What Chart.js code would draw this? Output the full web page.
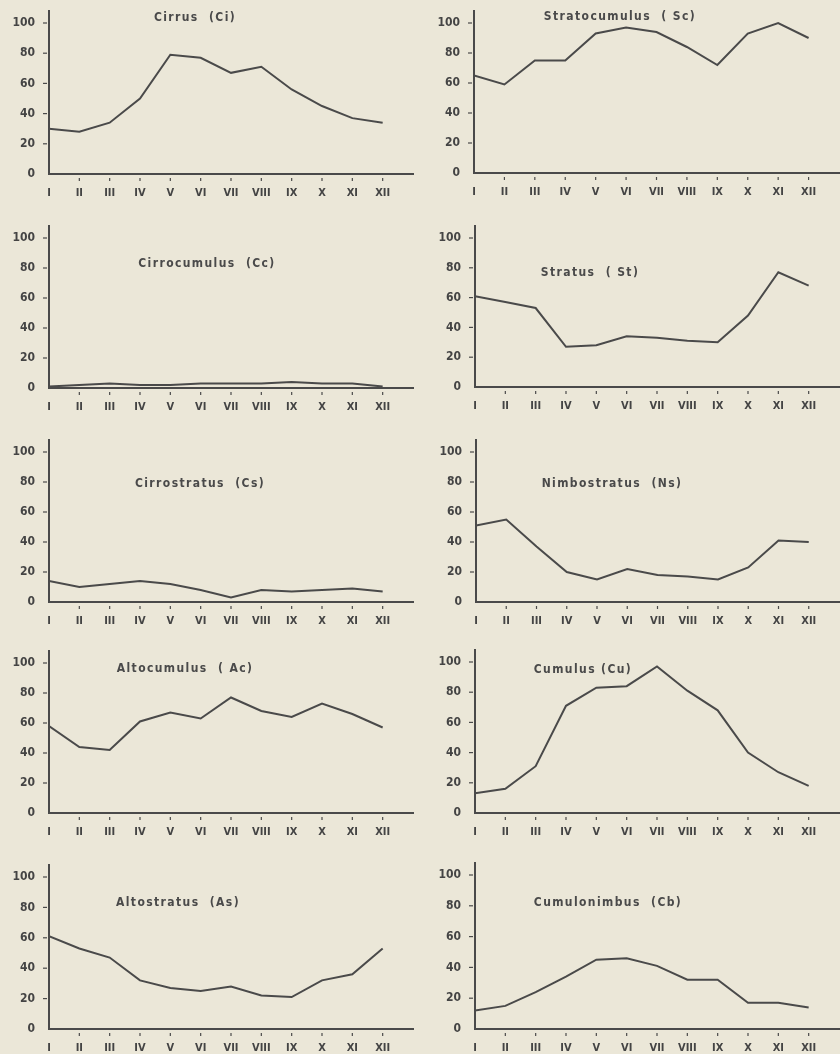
<!DOCTYPE html>
<html>
<head>
<meta charset="utf-8">
<script src="https://cdn.jsdelivr.net/npm/chart.js@4/dist/chart.umd.min.js"></script>
<style>
    body { margin: 0; background: #ebe7d8; }
    #page { position: relative; width: 840px; height: 1054px; overflow: hidden; background: #ebe7d8; }
    .panel { position: absolute; }
    .title {
        position: absolute;
        font-family: "DejaVu Sans Condensed", "Liberation Sans Narrow", "DejaVu Sans", sans-serif;
        font-size: 12px;
        font-weight: bold;
        color: #4a4a4a;
        letter-spacing: 1.4px;
        transform: translate(-50%, -50%);
        white-space: pre;
    }
</style>
</head>
<body>
<div id="page"></div>
<script>
// Monthly frequency of cloud genera (%)
const months = ['I', 'II', 'III', 'IV', 'V', 'VI', 'VII', 'VIII', 'IX', 'X', 'XI', 'XII'];
const yTicks = [0, 20, 40, 60, 80, 100];

const cirrus        = [30, 28, 34, 50, 79, 77, 67, 71, 56, 45, 37, 34];
const stratocumulus = [65, 59, 75, 75, 93, 97, 94, 84, 72, 93, 100, 90];
const cirrocumulus  = [1, 2, 3, 2, 2, 3, 3, 3, 4, 3, 3, 1];
const stratus       = [61, 57, 53, 27, 28, 34, 33, 31, 30, 48, 77, 68];
const cirrostratus  = [14, 10, 12, 14, 12, 8, 3, 8, 7, 8, 9, 7];
const nimbostratus  = [51, 55, 37, 20, 15, 22, 18, 17, 15, 23, 41, 40];
const altocumulus   = [58, 44, 42, 61, 67, 63, 77, 68, 64, 73, 66, 57];
const cumulus       = [13, 16, 31, 71, 83, 84, 97, 81, 68, 40, 27, 18];
const altostratus   = [61, 53, 47, 32, 27, 25, 28, 22, 21, 32, 36, 53];
const cumulonimbus  = [12, 15, 24, 34, 45, 46, 41, 32, 32, 17, 17, 14];

const titles = [
    'Cirrus  (Ci)', 'Stratocumulus  ( Sc)',
    'Cirrocumulus  (Cc)', 'Stratus  ( St)',
    'Cirrostratus  (Cs)', 'Nimbostratus  (Ns)',
    'Altocumulus  ( Ac)', 'Cumulus (Cu)',
    'Altostratus  (As)', 'Cumulonimbus  (Cb)'
];
const series = [cirrus, stratocumulus, cirrocumulus, stratus, cirrostratus,
                nimbostratus, altocumulus, cumulus, altostratus, cumulonimbus];

// Layout of each panel: column, y-axis position, pixel of 0 and 100, title centre
const panels = [
    { col: 0, axisX: 49, zeroY: 174, topY: 23, tx: 195, ty: 17 },
    { col: 1, axisX: 474, zeroY: 173, topY: 23, tx: 620, ty: 16 },
    { col: 0, axisX: 49, zeroY: 388, topY: 238, tx: 207, ty: 263 },
    { col: 1, axisX: 475, zeroY: 387, topY: 238, tx: 590, ty: 272 },
    { col: 0, axisX: 49, zeroY: 602, topY: 452, tx: 200, ty: 483 },
    { col: 1, axisX: 476, zeroY: 602, topY: 452, tx: 612, ty: 483 },
    { col: 0, axisX: 49, zeroY: 813, topY: 663, tx: 185, ty: 668 },
    { col: 1, axisX: 475, zeroY: 813, topY: 662, tx: 583, ty: 669 },
    { col: 0, axisX: 49, zeroY: 1029, topY: 877, tx: 178, ty: 902 },
    { col: 1, axisX: 475, zeroY: 1029, topY: 875, tx: 608, ty: 902 }
];

const ink = '#4a4a4a';
const tickFont = { family: '"DejaVu Sans Condensed", "Liberation Sans Narrow", "DejaVu Sans", sans-serif', size: 11, weight: 'bold' };
const page = document.getElementById('page');

panels.forEach((p, i) => {
    const canvasLeft = p.col * 420;
    const canvasTop = p.zeroY - 170;
    const canvasH = 200;
    const plotH = (p.zeroY - p.topY) * 1.08;

    const wrap = document.createElement('div');
    wrap.className = 'panel';
    wrap.style.left = canvasLeft + 'px';
    wrap.style.top = canvasTop + 'px';
    wrap.style.width = '420px';
    wrap.style.height = canvasH + 'px';
    const canvas = document.createElement('canvas');
    wrap.appendChild(canvas);
    page.appendChild(wrap);

    const title = document.createElement('div');
    title.className = 'title';
    title.textContent = titles[i];
    title.style.left = p.tx + 'px';
    title.style.top = p.ty + 'px';
    page.appendChild(title);

    const points = series[i].map((v, k) => ({ x: k + 1, y: v }));

    new Chart(canvas, {
        type: 'line',
        data: {
            datasets: [{
                data: points,
                borderColor: ink,
                borderWidth: 2,
                pointRadius: 0,
                tension: 0
            }]
        },
        options: {
            responsive: true,
            maintainAspectRatio: false,
            animation: false,
            layout: { padding: { top: 170 - plotH, right: p.col === 0 ? 7 : 1, left: 0, bottom: 0 } },
            plugins: { legend: { display: false }, tooltip: { enabled: false } },
            scales: {
                x: {
                    type: 'linear',
                    min: 1,
                    max: 13,
                    afterBuildTicks: (axis) => { axis.ticks = months.map((m, k) => ({ value: k + 1 })); },
                    afterFit: (axis) => {
                        axis.height = 30;
                        axis.paddingLeft = 0;
                        axis.paddingRight = 0;
                    },
                    grid: { display: false, drawTicks: false },
                    border: { color: ink, width: 2 },
                    ticks: {
                        color: '#444',
                        font: tickFont,
                        padding: 13,
                        maxRotation: 0,
                        autoSkip: false,
                        callback: (v) => months[v - 1] || ''
                    }
                },
                y: {
                    min: 0,
                    max: 108,
                    afterBuildTicks: (axis) => { axis.ticks = yTicks.map(v => ({ value: v })); },
                    afterFit: (axis) => {
                        axis.width = p.axisX - canvasLeft;
                        axis.paddingTop = 0;
                        axis.paddingBottom = 0;
                    },
                    grid: { display: false, drawTicks: false },
                    border: { color: ink, width: 2 },
                    ticks: {
                        color: '#444',
                        font: { ...tickFont, size: 12 },
                        padding: 14,
                        callback: (v) => v
                    }
                }
            }
        },
        plugins: [{
            id: 'tickMarks',
            afterDraw(chart) {
                const ctx = chart.ctx;
                const xs = chart.scales.x, ys = chart.scales.y;
                ctx.save();
                ctx.strokeStyle = ink;
                ctx.lineWidth = 1.2;
                yTicks.forEach(v => {
                    if (v === 0) return;
                    const y = ys.getPixelForValue(v);
                    ctx.beginPath();
                    ctx.moveTo(xs.left - 6, y);
                    ctx.lineTo(xs.left - 2, y);
                    ctx.stroke();
                });
                months.forEach((m, k) => {
                    if (k === 0) return;
                    const x = xs.getPixelForValue(k + 1);
                    ctx.beginPath();
                    ctx.moveTo(x, ys.bottom + 4);
                    ctx.lineTo(x, ys.bottom + 7);
                    ctx.stroke();
                });
                ctx.restore();
            }
        }]
    });
});
</script>
</body>
</html>
